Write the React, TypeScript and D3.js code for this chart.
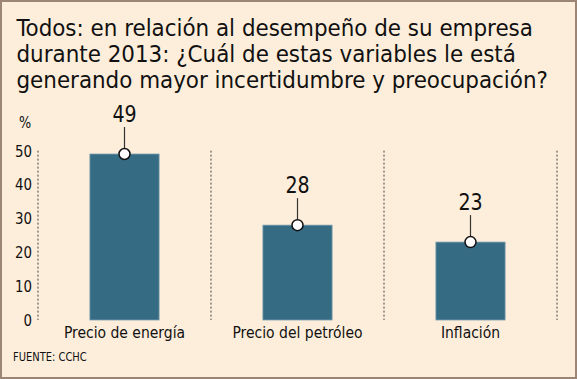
import React from "react";
import * as d3 from "d3";

const categories = ["Precio de energía", "Precio del petróleo", "Inflación"];
const values = [49, 28, 23];
const yTicks = [0, 10, 20, 30, 40, 50];
const titleLines = [
  "Todos: en relación al desempeño de su empresa",
  "durante 2013: ¿Cuál de estas variables le está",
  "generando mayor incertidumbre y preocupación?",
];
const unitLabel = "%";
const sourceLabel = "FUENTE: CCHC";

const W = 577;
const H = 379;
const FONT = "'DejaVu Sans Condensed', 'DejaVu Sans', sans-serif";

function T(props: {
  x: number;
  y: number;
  sx?: number;
  size: number;
  anchor?: "start" | "middle" | "end";
  dy?: string;
  children: React.ReactNode;
}) {
  const { x, y, sx = 1, size, anchor = "start", dy, children } = props;
  return (
    <text
      transform={`translate(${x},${y}) scale(${sx},1)`}
      dy={dy}
      textAnchor={anchor}
      fontFamily={FONT}
      fontSize={size}
      fill="#111"
    >
      {children}
    </text>
  );
}

export default function App() {
  const x = d3.scaleBand<string>().domain(categories).range([38, 557]).padding(0);
  const y = d3.scaleLinear().domain([0, 49]).range([320, 154]);
  const barW = x.bandwidth() * 0.4;
  const dividers = [38, ...categories.map((c) => (x(c) as number) + x.bandwidth())];

  return (
    <svg
      width={W}
      height={H}
      style={{ position: "absolute", left: 0, top: 0, display: "block" }}
    >
      <rect x={1} y={1} width={W - 2} height={H - 2} fill="#fdeedb" stroke="#9c8575" strokeWidth={2} />
      {titleLines.map((t, i) => (
        <T key={i} x={16.5} y={36 + i * 26} size={23} sx={1.037}>
          {t}
        </T>
      ))}
      <T x={25} y={128} size={15.5} sx={0.92} anchor="middle">
        {unitLabel}
      </T>
      {yTicks.map((t) => (
        <T key={t} x={32} y={y(t)} dy="0.36em" anchor="end" size={16.5} sx={0.9}>
          {t}
        </T>
      ))}
      {dividers.map((d, i) => (
        <line
          key={i}
          x1={d}
          x2={d}
          y1={y(50)}
          y2={y(0)}
          stroke="#444"
          strokeWidth={1}
          strokeDasharray="2,2"
        />
      ))}
      {categories.map((c, i) => {
        const cx = (x(c) as number) + x.bandwidth() / 2;
        const top = y(values[i]);
        return (
          <g key={c}>
            <rect
              x={cx - barW / 2}
              y={top}
              width={barW}
              height={y(0) - top}
              fill="#366b84"
              stroke="#7c9fae"
              strokeWidth={0.8}
            />
            <line x1={cx} x2={cx} y1={top - 27} y2={top} stroke="#333" strokeWidth={1.2} />
            <circle cx={cx} cy={top} r={5.5} fill="#fff" stroke="#111" strokeWidth={1.5} />
            <T x={cx} y={top - 32} anchor="middle" size={23.5} sx={0.9}>
              {values[i]}
            </T>
            <T x={cx} y={338} anchor="middle" size={16.5} sx={0.94}>
              {c}
            </T>
          </g>
        );
      })}
      <T x={13} y={361} size={11.5} sx={0.96}>
        {sourceLabel}
      </T>
    </svg>
  );
}
